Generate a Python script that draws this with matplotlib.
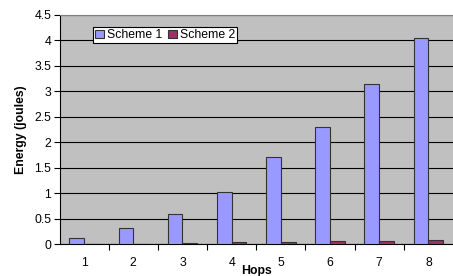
import matplotlib
matplotlib.use("Agg")
import matplotlib.pyplot as plt
import numpy as np

plt.rcParams['font.family'] = ['Liberation Sans', 'DejaVu Sans']

hops = ['1', '2', '3', '4', '5', '6', '7', '8']
scheme1 = [0.12, 0.31, 0.60, 1.02, 1.71, 2.30, 3.15, 4.05]
scheme2 = [0.005, 0.015, 0.025, 0.04, 0.045, 0.055, 0.065, 0.08]
yticks = [0, 0.5, 1, 1.5, 2, 2.5, 3, 3.5, 4, 4.5]
ytick_labels = ['0', '0.5', '1', '1.5', '2', '2.5', '3', '3.5', '4', '4.5']

FS = 8.8

fig = plt.figure(figsize=(4.53, 2.76), dpi=100)
ax = fig.add_axes([59.5/453, 31.7/276, (453-59.5)/453, (244.3-14.7)/276])
ax.set_facecolor('#C0C0C0')

x = np.arange(len(hops))
w = 0.3
ax.bar(x - w/2, scheme1, w, color='#9999FF', edgecolor='#333333', linewidth=0.8, label='Scheme 1', zorder=3)
ax.bar(x + w/2, scheme2, w, color='#993366', edgecolor='#333333', linewidth=0.8, label='Scheme 2', zorder=3)

ax.set_xlim(-0.5, len(hops) - 0.5)
ax.set_ylim(0, 4.5)
ax.set_yticks(yticks)
ax.set_yticklabels(ytick_labels, fontsize=FS)
ax.yaxis.grid(True, color='black', linewidth=0.8, zorder=1)
ax.set_axisbelow(True)

ax.set_xticks(x)
ax.set_xticklabels(hops, fontsize=FS)
ax.tick_params(axis='x', length=0, pad=9)
ax.set_xticks(np.arange(0.5, len(hops) - 0.5, 1), minor=True)
ax.tick_params(axis='x', which='minor', length=4, direction='out', width=0.8)
ax.tick_params(axis='y', length=4, direction='out', width=0.8, pad=2)

ax.spines['right'].set_visible(False)
ax.spines['top'].set_color('#808080')
ax.spines['left'].set_color('black')
ax.spines['bottom'].set_color('black')

ax.set_ylabel('Energy (joules)', fontsize=FS, fontweight='bold', labelpad=5)
ax.set_xlabel('Hops', fontsize=FS, fontweight='bold', labelpad=-3)

leg = ax.legend(loc='upper left', bbox_to_anchor=((93.3-59.5)/(453-59.5), 1 - (27.3-14.7)/(244.3-14.7)),
                ncol=2, fontsize=FS, frameon=True, fancybox=False, handlelength=0.7, handleheight=0.7,
                handletextpad=0.3, columnspacing=0.45, borderpad=0.15, borderaxespad=0)
leg.get_frame().set_edgecolor('black')
leg.get_frame().set_linewidth(0.8)
leg.get_frame().set_facecolor('white')
leg.get_frame().set_alpha(1)
leg.set_zorder(5)

fig.savefig('out.png', dpi=100, facecolor='white')
